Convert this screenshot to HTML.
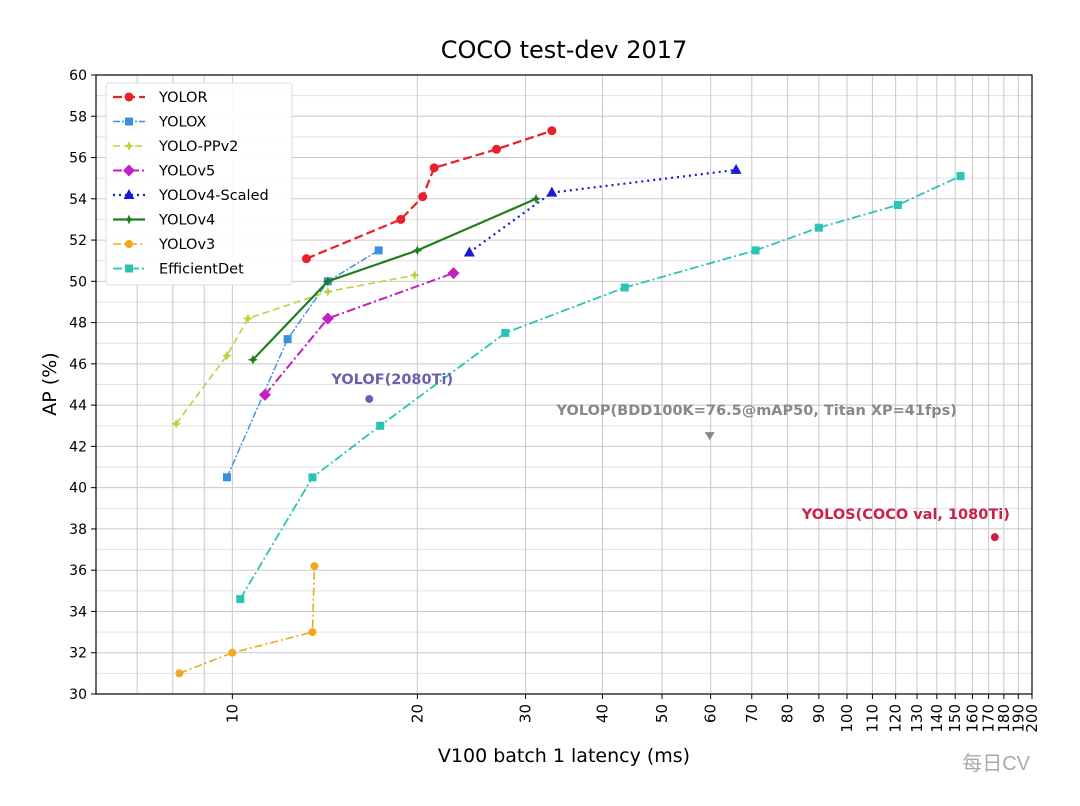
<!DOCTYPE html>
<html><head><meta charset="utf-8">
<style>
html,body{margin:0;padding:0;background:#fff;}
svg{display:block;font-family:"DejaVu Sans","Liberation Sans",sans-serif;}
</style></head>
<body>
<svg id="chart" width="1080" height="806"></svg>
<script>
const xTickLabels=[10,20,30,40,50,60,70,80,90,100,110,120,130,140,150,160,170,180,190,200];
const yTickLabels=[30,32,34,36,38,40,42,44,46,48,50,52,54,56,58,60];
const yolorX=[13.2,18.8,20.4,21.3,26.9,33.1], yolorY=[51.1,53.0,54.1,55.5,56.4,57.3];
const yoloxX=[9.8,12.3,14.3,17.3], yoloxY=[40.5,47.2,50.0,51.5];
const ppX=[8.1,9.8,10.6,14.3,19.8], ppY=[43.1,46.4,48.2,49.5,50.3];
const v5X=[11.3,14.3,22.9], v5Y=[44.5,48.2,50.4];
const scaledX=[24.3,33.1,66], scaledY=[51.4,54.3,55.4];
const v4X=[10.8,14.3,20,31.2], v4Y=[46.2,50.0,51.5,54.0];
const v3X=[8.2,10,13.5,13.6], v3Y=[31.0,32.0,33.0,36.2];
const effX=[10.3,13.5,17.4,27.8,43.5,71,90,121,153], effY=[34.6,40.5,43.0,47.5,49.7,51.5,52.6,53.7,55.1];
const seriesNames=["YOLOR","YOLOX","YOLO-PPv2","YOLOv5","YOLOv4-Scaled","YOLOv4","YOLOv3","EfficientDet"];
const annX=[16.7,59.8,174], annY=[44.3,42.5,37.6];
const annText=["YOLOF(2080Ti)","YOLOP(BDD100K=76.5@mAP50, Titan XP=41fps)","YOLOS(COCO val, 1080Ti)"];

const NS="http://www.w3.org/2000/svg";
const svg=document.getElementById('chart');
const L=96,R=1032,T=75,B=694;
const xmin=6,xmax=200,ymin=30,ymax=60;
function X(v){return L+(Math.log10(v)-Math.log10(xmin))/(Math.log10(xmax)-Math.log10(xmin))*(R-L);}
function Y(v){return B-(v-ymin)/(ymax-ymin)*(B-T);}
function el(tag,attrs,parent){const e=document.createElementNS(NS,tag);for(const k in attrs)e.setAttribute(k,attrs[k]);(parent||svg).appendChild(e);return e;}

const grid=el('g',{});


for(let v=ymin;v<=ymax;v++){
  el('line',{x1:L,x2:R,y1:Y(v),y2:Y(v),stroke:v%2?'#e2e2e2':'#c8c8c8','stroke-width':1},grid);
}
[7,8,9].concat(xTickLabels).forEach(v=>{
  el('line',{x1:X(v),x2:X(v),y1:T,y2:B,stroke:'#c8c8c8','stroke-width':1},grid);
});
const frame=el('rect',{x:L,y:T,width:R-L,height:B-T,fill:'none',stroke:'#000','stroke-width':1.2});



yTickLabels.forEach(v=>{
  el('line',{x1:L-5,x2:L,y1:Y(v),y2:Y(v),stroke:'#000'});
  const t=el('text',{x:L-9,y:Y(v)+5,'text-anchor':'end','font-size':14,fill:'#000'});
  t.textContent=v;
  
  
});
xTickLabels.forEach(v=>{
  el('line',{x1:X(v),x2:X(v),y1:B,y2:B+5,stroke:'#000'});
  const t=el('text',{x:0,y:0,'text-anchor':'end','font-size':15,fill:'#000',transform:`translate(${X(v)+5},${B+10}) rotate(-90)`});
  t.textContent=v;
  
  
});

const title=el('text',{x:564,y:58,'text-anchor':'middle','font-size':24,fill:'#000'});
title.textContent='COCO test-dev 2017';


const xt=el('text',{x:564,y:762,'text-anchor':'middle','font-size':19,fill:'#000'});
xt.textContent='V100 batch 1 latency (ms)';


const yt=el('text',{x:0,y:0,'text-anchor':'middle','font-size':19,fill:'#000',transform:`translate(56,384) rotate(-90)`});
yt.textContent='AP (%)';



const styles=[
 {xs:yolorX,ys:yolorY,c:'#e8202a',d:'9,4',m:'circle',w:2.2},
 {xs:yoloxX,ys:yoloxY,c:'#3b8fde',d:'7,2,2,2',m:'square',w:1.4},
 {xs:ppX,ys:ppY,c:'#b8d43a',d:'7,4',m:'star',w:1.6},
 {xs:v5X,ys:v5Y,c:'#c41fc0',d:'9,3,2,3',m:'diamond',w:2},
 {xs:scaledX,ys:scaledY,c:'#1a1ad6',d:'2,4',m:'triangle',w:2.2},
 {xs:v4X,ys:v4Y,c:'#1f7f1f',d:'',m:'star',w:2.2},
 {xs:v3X,ys:v3Y,c:'#f0a81c',d:'8,3,2,3',m:'hex',w:1.6},
 {xs:effX,ys:effY,c:'#2ac4b4',d:'9,3,2,3',m:'square',w:1.8}
];
function marker(g,type,x,y,c){
  if(type==='circle')el('circle',{cx:x,cy:y,r:4.5,fill:c},g);
  else if(type==='square')el('rect',{x:x-4,y:y-4,width:8,height:8,fill:c},g);
  else if(type==='diamond')el('polygon',{points:`${x},${y-6} ${x+6},${y} ${x},${y+6} ${x-6},${y}`,fill:c},g);
  else if(type==='triangle')el('polygon',{points:`${x},${y-6} ${x+5.5},${y+4} ${x-5.5},${y+4}`,fill:c},g);
  else if(type==='star')el('polygon',{points:`${x},${y-5} ${x+1.5},${y-1.5} ${x+5},${y} ${x+1.5},${y+1.5} ${x},${y+5} ${x-1.5},${y+1.5} ${x-5},${y} ${x-1.5},${y-1.5}`,fill:c},g);
  else el('circle',{cx:x,cy:y,r:4,fill:c},g);
}
styles.forEach((s,i)=>{
  const g=el('g',{});
  
  
  const pts=s.xs.map((v,j)=>X(v)+','+Y(s.ys[j])).join(' ');
  el('polyline',{points:pts,fill:'none',stroke:s.c,'stroke-width':s.w,'stroke-dasharray':s.d},g);
  s.xs.forEach((v,j)=>marker(g,s.m,X(v),Y(s.ys[j]),s.c));
});

const annColors=['#6a5fb0','#888888','#cc1f4a'];
const annDx=[23,47,-89], annDy=[-15,-21,-18];
annX.forEach((v,i)=>{
  const g=el('g',{});
  
  
  const x=X(v),y=Y(annY[i]);
  if(i===1)el('polygon',{points:`${x-5},${y-4} ${x+5},${y-4} ${x},${y+4}`,fill:annColors[i]},g);
  else el('circle',{cx:x,cy:y,r:4,fill:annColors[i]},g);
  const t=el('text',{x:x+annDx[i],y:y+annDy[i],'text-anchor':'middle','font-size':14.5,'font-weight':'bold',fill:annColors[i]},g);
  t.textContent=annText[i];
});

const lg=el('g',{});


el('rect',{x:106,y:83,width:186,height:202,fill:'#fff','fill-opacity':0.9,stroke:'#ddd',rx:3},lg);
styles.forEach((s,i)=>{
  const ent=el('g',{},lg);
  
  
  const y=97+i*24.5;
  el('line',{x1:113,x2:145,y1:y,y2:y,stroke:s.c,'stroke-width':s.w,'stroke-dasharray':s.d},ent);
  marker(ent,s.m,129,y,s.c);
  const t=el('text',{x:159,y:y+5,'font-size':14.5,fill:'#000'},ent);
  t.textContent=seriesNames[i];
});

const wm=el('text',{x:1030,y:770,'text-anchor':'end','font-size':20,fill:'#aaa','font-family':'"Liberation Sans","Noto Sans CJK SC",sans-serif'});
wm.textContent='每日CV';


</script>
</body></html>
